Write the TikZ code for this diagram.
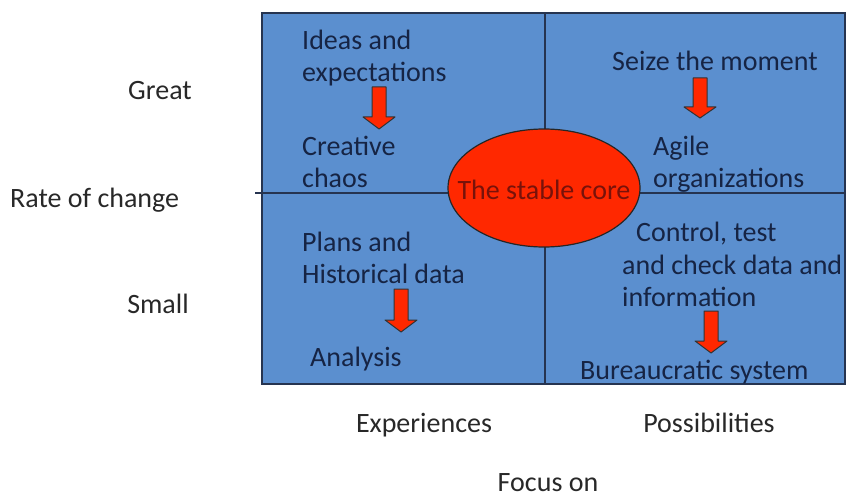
\documentclass[tikz,border=0pt]{standalone}
\usepackage{fontspec}
\setmainfont{Carlito}
\definecolor{quadblue}{RGB}{91,143,207}
\definecolor{corered}{RGB}{255,40,0}
\definecolor{corefont}{RGB}{120,18,10}
\definecolor{inkblue}{RGB}{22,36,68}
\definecolor{labelgray}{RGB}{40,40,40}
\definecolor{edgedark}{RGB}{38,52,80}

\tikzset{
  intext/.style={font=\fontsize{28}{32}\selectfont, text=inkblue, anchor=base west, inner sep=0pt, align=left},
  outtext/.style={font=\fontsize{28}{32}\selectfont, text=labelgray, anchor=base, inner sep=0pt},
  redarrow/.style={fill=corered, draw=black!80, line width=1pt, line join=round},
}

\begin{document}
\begin{tikzpicture}[x=1pt, y=-1pt]
    \useasboundingbox (0,0) rectangle (850,497);
    % Quadrants
    \draw[fill=quadblue, draw=edgedark, line width=1.2pt] (262,13) rectangle (845,384);
    \draw[edgedark, line width=1.2pt] (545,13) -- (545,384);
    \draw[edgedark, line width=1.2pt] (255,193) -- (845,193);

    % Stable core in the middle
    \draw[fill=corered, draw=black!85, line width=1.2pt] (544,188) ellipse (96 and 59);
    \node[inner sep=0pt, text=corefont, font=\fontsize{28}{32}\selectfont] (core) at (544,190) {The stable core};

    % Texts in the quadrants (base = last line)
    \node[intext] (ideas) at (302,82) {Ideas and\\expectations};
    \node[intext] (creative) at (302,187) {Creative\\chaos};
    \node[intext] (seize) at (612,71) {Seize the moment};
    \node[intext] (agile) at (653,187) {Agile\\organizations};
    \node[intext] (plans) at (302,283) {Plans and\\Historical data};
    \node[intext] (analysis) at (310,366) {Analysis};
    \node[intext] (control) at (636,241) {Control, test};
    \node[intext] (checkdata) at (622,306) {and check data and\\information};
    \node[intext] (bureau) at (580,379) {Bureaucratic system};

    % Block arrows
    \foreach \cx/\ytop/\yhead/\ytip in {379/87/117/129, 700/78/107/118, 401/289/320/332, 711/311/341/353} {
      \draw[redarrow] (\cx-7,\ytop) -- (\cx+7,\ytop) -- (\cx+7,\yhead) -- (\cx+16,\yhead)
        -- (\cx,\ytip) -- (\cx-16,\yhead) -- (\cx-7,\yhead) -- cycle;
    }

    % Axis labels
    \node[outtext] (great) at (160,100) {Great};
    \node[outtext, anchor=base west] (rate) at (10,207) {Rate of change};
    \node[outtext] (small) at (158,313) {Small};
    \node[outtext] (exper) at (424,432) {Experiences};
    \node[outtext] (possib) at (709,432) {Possibilities};
    \node[outtext] (focus) at (548,491) {Focus on};
\end{tikzpicture}
\end{document}
